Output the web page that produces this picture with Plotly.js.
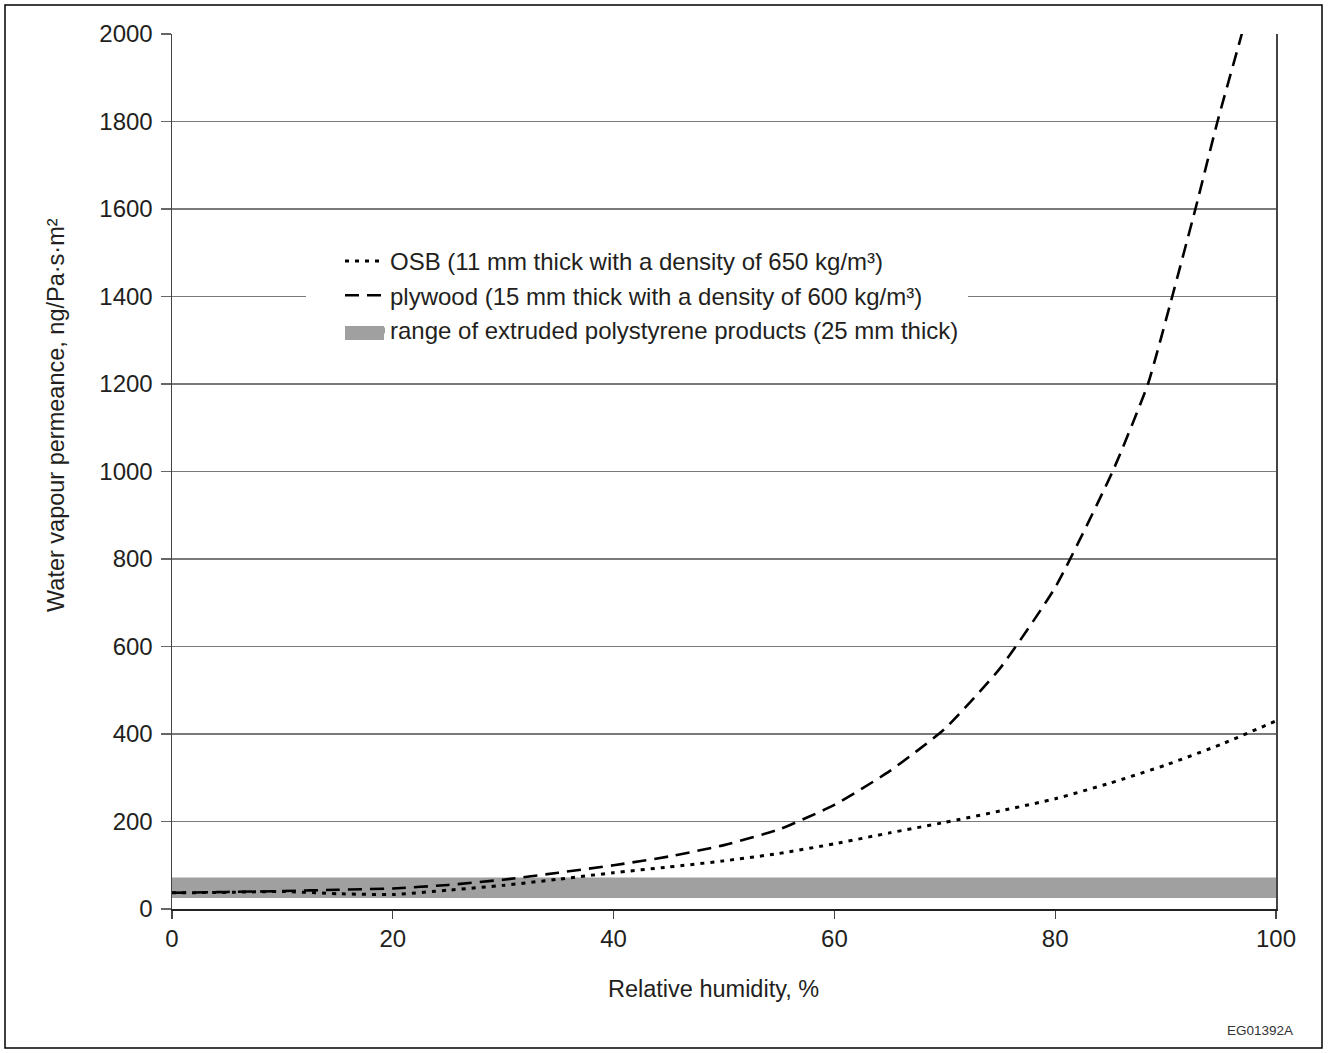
<!DOCTYPE html>
<html>
<head>
<meta charset="utf-8">
<script src="https://cdn.plot.ly/plotly-3.0.1.min.js"></script>
<style>
  html, body { margin: 0; padding: 0; background: #ffffff; }
  #chart { width: 1328px; height: 1053px; }
</style>
</head>
<body>
<div id="chart"></div>
<script>
// ---- Data ----
const osbRH = [0, 5, 10, 15, 20, 25, 30, 35, 40, 45, 50, 55, 60, 65, 70, 75, 80, 85, 90, 95, 100];
const osbPerm = [37, 38, 40, 35, 33, 43, 54, 68, 83, 96, 110, 127, 149, 174, 198, 224, 252, 288, 329, 376, 430];

const plyRH = [0, 5, 10, 15, 20, 25, 30, 35, 40, 45, 50, 55, 60, 65, 70, 75, 80, 85.2, 88.4, 90.6, 92.7, 94.7, 96.9, 97.2];
const plyPerm = [37, 39, 41, 44, 47, 55, 67, 83, 100, 120, 146, 182, 238, 315, 412, 550, 735, 1000, 1200, 1400, 1600, 1800, 2000, 2030];

const xpsRH = [0, 100];
const xpsLow = [25, 25];
const xpsHigh = [72, 72];

const seriesNames = [
  'OSB (11 mm thick with a density of 650 kg/m³)',
  'plywood (15 mm thick with a density of 600 kg/m³)',
  'range of extruded polystyrene products (25 mm thick)'
];

const xTickVals = [0, 20, 40, 60, 80, 100];
const yTickVals = [0, 200, 400, 600, 800, 1000, 1200, 1400, 1600, 1800, 2000];

const xTitle = 'Relative humidity, %';
const yTitle = 'Water vapour permeance, ng/Pa·s·m²';
const figCode = 'EG01392A';

// ---- Traces ----
const FONT = '"Liberation Sans", Arial, Helvetica, sans-serif';
const TXT = '#231f20';
const BAND = '#a0a0a0';

const traces = [
  {
    x: xpsRH, y: xpsLow, type: 'scatter', mode: 'lines',
    line: { width: 0, color: BAND },
    showlegend: false, hoverinfo: 'skip'
  },
  {
    x: xpsRH, y: xpsHigh, type: 'scatter', mode: 'lines',
    fill: 'tonexty', fillcolor: BAND,
    line: { width: 0, color: BAND },
    name: seriesNames[2], legendrank: 3
  },
  {
    x: osbRH, y: osbPerm, type: 'scatter', mode: 'lines',
    line: { color: '#000000', width: 3, dash: '4px,6px', shape: 'spline', smoothing: 0.5 },
    name: seriesNames[0], legendrank: 1
  },
  {
    x: plyRH, y: plyPerm, type: 'scatter', mode: 'lines',
    line: { color: '#000000', width: 2.6, dash: '14px,8px', shape: 'spline', smoothing: 0.5 },
    name: seriesNames[1], legendrank: 2
  }
];

// ---- Layout ----
const layout = {
  width: 1328, height: 1053,
  margin: { l: 172, r: 52, t: 34, b: 144, pad: 0 },
  paper_bgcolor: '#ffffff', plot_bgcolor: '#ffffff',
  font: { family: FONT, size: 24, color: TXT },
  showlegend: true,
  legend: {
    x: (340 - 172) / 1104, y: (909 - 239) / 875,
    xanchor: 'left', yanchor: 'top',
    bgcolor: 'rgba(0,0,0,0)', borderwidth: 0,
    font: { family: FONT, size: 24, color: TXT },
    itemwidth: 40, tracegroupgap: 0, traceorder: 'normal'
  },
  xaxis: {
    range: [0, 100], tickvals: xTickVals, ticktext: xTickVals.map(String),
    showgrid: false, zeroline: false,
    showline: true, linecolor: '#222222', linewidth: 1.5,
    ticks: 'outside', ticklen: 8, tickwidth: 1.2, tickcolor: '#444444',
    tickfont: { family: FONT, size: 24, color: TXT },
    fixedrange: true
  },
  yaxis: {
    range: [0, 2000], tickvals: yTickVals, ticktext: yTickVals.map(String),
    showgrid: true, gridcolor: '#7a7a7a', gridwidth: 1.2,
    zeroline: false,
    showline: true, linecolor: '#444444', linewidth: 1.5, mirror: true,
    ticks: 'outside', ticklen: 10, tickwidth: 1.2, tickcolor: '#666666',
    ticklabelstandoff: 3,
    tickfont: { family: FONT, size: 24, color: TXT },
    fixedrange: true
  },
  shapes: [
    // gap in gridlines behind the legend
    { type: 'rect', xref: 'x', yref: 'y', x0: (306 - 172) / 11.04, x1: (968 - 172) / 11.04,
      y0: 1310, y1: 1490, fillcolor: '#ffffff', line: { width: 0 }, layer: 'between' },
    // taller legend swatch for the polystyrene band
    { type: 'rect', xref: 'paper', yref: 'paper',
      x0: (345 - 172) / 1104, x1: (384 - 172) / 1104,
      y0: (909 - 340) / 875, y1: (909 - 326) / 875,
      fillcolor: BAND, line: { width: 0 }, layer: 'above' },
    // outer frame
    { type: 'rect', xref: 'paper', yref: 'paper',
      x0: (5 - 172) / 1104, x1: (1322 - 172) / 1104,
      y0: (909 - 1048) / 875, y1: (909 - 5) / 875,
      line: { color: '#000000', width: 1.5 }, fillcolor: 'rgba(0,0,0,0)', layer: 'above' }
  ],
  annotations: [
    { text: xTitle, xref: 'paper', yref: 'paper', x: (713 - 172) / 1104, y: (909 - 989) / 875,
      xanchor: 'center', yanchor: 'middle', showarrow: false,
      font: { family: FONT, size: 23.5, color: TXT } },
    { text: yTitle, xref: 'paper', yref: 'paper', x: (56 - 172) / 1104, y: (909 - 415) / 875,
      xanchor: 'center', yanchor: 'middle', showarrow: false, textangle: -90,
      font: { family: FONT, size: 23.5, color: TXT } },
    { text: figCode, xref: 'paper', yref: 'paper', x: (1260 - 172) / 1104, y: (909 - 1030) / 875,
      xanchor: 'center', yanchor: 'middle', showarrow: false,
      font: { family: FONT, size: 13.5, color: '#333333' } }
  ]
};

Plotly.newPlot('chart', traces, layout, { displayModeBar: false, staticPlot: true });
</script>
</body>
</html>
